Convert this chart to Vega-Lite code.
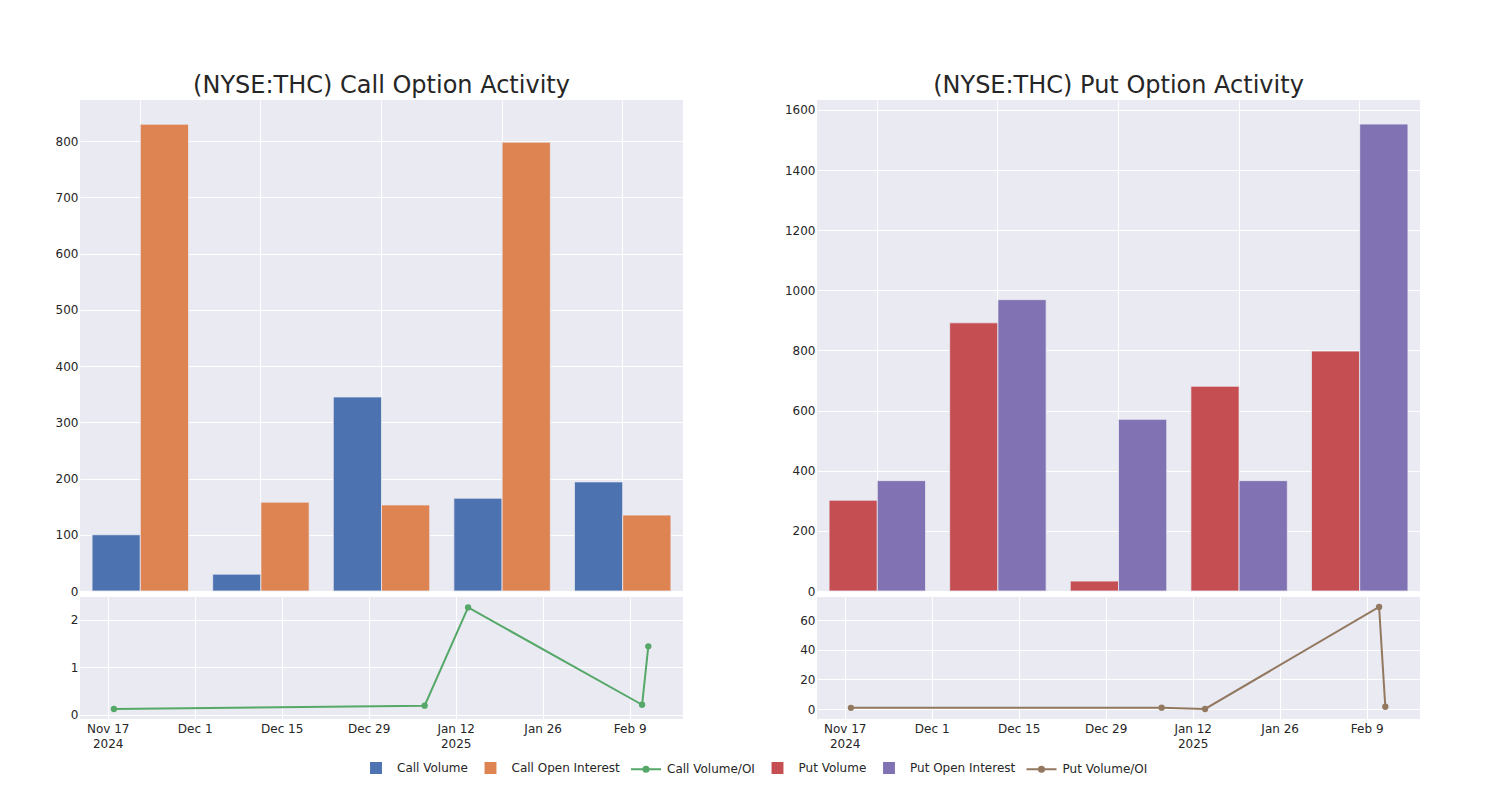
{
  "$schema": "https://vega.github.io/schema/vega-lite/v6.json",
  "background": "white",
  "padding": {"left": 55, "top": 74, "right": 10, "bottom": 10},
  "datasets": {
    "bars": [
      {"panel": "call", "date": "2024-11-18", "series": "Call Volume", "value": 100},
      {"panel": "call", "date": "2024-11-18", "series": "Call Open Interest", "value": 830},
      {"panel": "call", "date": "2025-01-07", "series": "Call Volume", "value": 30},
      {"panel": "call", "date": "2025-01-07", "series": "Call Open Interest", "value": 158},
      {"panel": "call", "date": "2025-01-14", "series": "Call Volume", "value": 345},
      {"panel": "call", "date": "2025-01-14", "series": "Call Open Interest", "value": 153},
      {"panel": "call", "date": "2025-02-11", "series": "Call Volume", "value": 165},
      {"panel": "call", "date": "2025-02-11", "series": "Call Open Interest", "value": 798},
      {"panel": "call", "date": "2025-02-12", "series": "Call Volume", "value": 194},
      {"panel": "call", "date": "2025-02-12", "series": "Call Open Interest", "value": 135},
      {"panel": "put", "date": "2024-11-18", "series": "Put Volume", "value": 302},
      {"panel": "put", "date": "2024-11-18", "series": "Put Open Interest", "value": 367},
      {"panel": "put", "date": "2025-01-07", "series": "Put Volume", "value": 892},
      {"panel": "put", "date": "2025-01-07", "series": "Put Open Interest", "value": 969},
      {"panel": "put", "date": "2025-01-14", "series": "Put Volume", "value": 33},
      {"panel": "put", "date": "2025-01-14", "series": "Put Open Interest", "value": 571},
      {"panel": "put", "date": "2025-02-11", "series": "Put Volume", "value": 681},
      {"panel": "put", "date": "2025-02-11", "series": "Put Open Interest", "value": 367},
      {"panel": "put", "date": "2025-02-12", "series": "Put Volume", "value": 798},
      {"panel": "put", "date": "2025-02-12", "series": "Put Open Interest", "value": 1553}
    ],
    "ratios": [
      {"panel": "call", "date": "2024-11-18T00:00:00", "series": "Call Volume/OI", "value": 0.12},
      {"panel": "call", "date": "2025-01-07T00:00:00", "series": "Call Volume/OI", "value": 0.19},
      {"panel": "call", "date": "2025-01-14T00:00:00", "series": "Call Volume/OI", "value": 2.26},
      {"panel": "call", "date": "2025-02-11T00:00:00", "series": "Call Volume/OI", "value": 0.21},
      {"panel": "call", "date": "2025-02-12T00:00:00", "series": "Call Volume/OI", "value": 1.44},
      {"panel": "put", "date": "2024-11-18T00:00:00", "series": "Put Volume/OI", "value": 0.82},
      {"panel": "put", "date": "2025-01-07T00:00:00", "series": "Put Volume/OI", "value": 0.92},
      {"panel": "put", "date": "2025-01-14T00:00:00", "series": "Put Volume/OI", "value": 0.06},
      {"panel": "put", "date": "2025-02-11T00:00:00", "series": "Put Volume/OI", "value": 68.9},
      {"panel": "put", "date": "2025-02-12T00:00:00", "series": "Put Volume/OI", "value": 1.55}
    ]
  },
  "hconcat": [
    {
      "spacing": 0,
      "vconcat": [
        {
          "title": {"text": "(NYSE:THC) Call Option Activity", "anchor": "middle", "frame": "group"},
          "width": 603, "height": 491,
          "data": {"name": "bars"},
          "transform": [{"filter": "datum.panel === 'call'"}],
          "mark": {"type": "bar", "stroke": "#eaeaf2", "strokeWidth": 0.8},
          "encoding": {
            "x": {"field": "date", "type": "ordinal", "scale": {"paddingInner": 0.2, "paddingOuter": 0.1},
                  "axis": {"labels": false, "grid": true, "bandPosition": 0.5, "title": null, "tickSize": 0, "labelPadding": 0, "minExtent": 0, "maxExtent": 0}},
            "xOffset": {"field": "series", "type": "nominal", "scale": {"domain": ["Call Volume", "Call Open Interest"]}},
            "y": {"field": "value", "type": "quantitative", "scale": {"domain": [0, 873], "nice": false},
                  "axis": {"values": [0, 100, 200, 300, 400, 500, 600, 700, 800], "title": null, "format": "d"}},
            "color": {"field": "series", "type": "nominal",
              "scale": {"domain": ["Call Volume", "Call Open Interest", "Call Volume/OI", "Put Volume", "Put Open Interest", "Put Volume/OI"],
                        "range": ["#4c72b0", "#dd8452", "#55a868", "#c44e52", "#8172b3", "#937860"]},
              "legend": {
                "orient": "none", "legendX": 280, "legendY": 652, "direction": "horizontal", "columns": 6,
                "title": null, "symbolSize": 900, "labelOffset": 5, "columnPadding": 6.5, "padding": 0,
                "symbolType": {"expr": "indexof(datum.value, '/OI') >= 0 ? 'M-1,0H1M0.17,0A0.17,0.17,0,1,1,-0.17,0A0.17,0.17,0,1,1,0.17,0' : 'M-0.33,-0.33H0.33V0.33H-0.33Z'"},
                "symbolStrokeWidth": 2, "symbolOpacity": 1,
                "labelFont": "DejaVu Sans", "labelFontSize": 12, "labelColor": "#262626"
              }}
          }
        },
        {
          "width": 603, "height": 122,
          "data": {"name": "ratios"},
          "transform": [{"filter": "datum.panel === 'call'"}],
          "mark": {"type": "line", "strokeWidth": 2, "point": {"filled": true, "size": 40}},
          "encoding": {
            "x": {"field": "date", "type": "temporal",
                  "scale": {"domain": [{"year": 2024, "month": 11, "date": 12, "hours": 13}, {"year": 2025, "month": 2, "date": 17, "hours": 14}]},
                  "axis": {"title": null, "grid": true, "labelPadding": 4, "labelLineHeight": 15,
                           "values": [{"year": 2024, "month": 11, "date": 17}, {"year": 2024, "month": 12, "date": 1}, {"year": 2024, "month": 12, "date": 15}, {"year": 2024, "month": 12, "date": 29}, {"year": 2025, "month": 1, "date": 12}, {"year": 2025, "month": 1, "date": 26}, {"year": 2025, "month": 2, "date": 9}],
                           "labelExpr": "(month(datum.value) == 10 && date(datum.value) == 17) || (month(datum.value) == 0 && date(datum.value) == 12) ? [timeFormat(datum.value, '%b %-d'), timeFormat(datum.value, '%Y')] : timeFormat(datum.value, '%b %-d')"}},
            "y": {"field": "value", "type": "quantitative", "scale": {"domain": [-0.09, 2.48], "nice": false},
                  "axis": {"values": [0, 1, 2], "title": null}},
            "color": {"field": "series", "type": "nominal",
              "scale": {"domain": ["Call Volume", "Call Open Interest", "Call Volume/OI", "Put Volume", "Put Open Interest", "Put Volume/OI"],
                        "range": ["#4c72b0", "#dd8452", "#55a868", "#c44e52", "#8172b3", "#937860"]}}
          }
        }
      ]
    },
    {
      "spacing": 0,
      "vconcat": [
        {
          "title": {"text": "(NYSE:THC) Put Option Activity", "anchor": "middle", "frame": "group"},
          "width": 603, "height": 491,
          "data": {"name": "bars"},
          "transform": [{"filter": "datum.panel === 'put'"}],
          "mark": {"type": "bar", "stroke": "#eaeaf2", "strokeWidth": 0.8},
          "encoding": {
            "x": {"field": "date", "type": "ordinal", "scale": {"paddingInner": 0.2, "paddingOuter": 0.1},
                  "axis": {"labels": false, "grid": true, "bandPosition": 0.5, "title": null, "tickSize": 0, "labelPadding": 0, "minExtent": 0, "maxExtent": 0}},
            "xOffset": {"field": "series", "type": "nominal", "scale": {"domain": ["Put Volume", "Put Open Interest"]}},
            "y": {"field": "value", "type": "quantitative", "scale": {"domain": [0, 1633], "nice": false},
                  "axis": {"values": [0, 200, 400, 600, 800, 1000, 1200, 1400, 1600], "title": null, "format": "d"}},
            "color": {"field": "series", "type": "nominal",
              "scale": {"domain": ["Call Volume", "Call Open Interest", "Call Volume/OI", "Put Volume", "Put Open Interest", "Put Volume/OI"],
                        "range": ["#4c72b0", "#dd8452", "#55a868", "#c44e52", "#8172b3", "#937860"]}}
          }
        },
        {
          "width": 603, "height": 122,
          "data": {"name": "ratios"},
          "transform": [{"filter": "datum.panel === 'put'"}],
          "mark": {"type": "line", "strokeWidth": 2, "point": {"filled": true, "size": 40}},
          "encoding": {
            "x": {"field": "date", "type": "temporal",
                  "scale": {"domain": [{"year": 2024, "month": 11, "date": 12, "hours": 13}, {"year": 2025, "month": 2, "date": 17, "hours": 14}]},
                  "axis": {"title": null, "grid": true, "labelPadding": 4, "labelLineHeight": 15,
                           "values": [{"year": 2024, "month": 11, "date": 17}, {"year": 2024, "month": 12, "date": 1}, {"year": 2024, "month": 12, "date": 15}, {"year": 2024, "month": 12, "date": 29}, {"year": 2025, "month": 1, "date": 12}, {"year": 2025, "month": 1, "date": 26}, {"year": 2025, "month": 2, "date": 9}],
                           "labelExpr": "(month(datum.value) == 10 && date(datum.value) == 17) || (month(datum.value) == 0 && date(datum.value) == 12) ? [timeFormat(datum.value, '%b %-d'), timeFormat(datum.value, '%Y')] : timeFormat(datum.value, '%b %-d')"}},
            "y": {"field": "value", "type": "quantitative", "scale": {"domain": [-6.7, 75.6], "nice": false},
                  "axis": {"values": [0, 20, 40, 60], "title": null}},
            "color": {"field": "series", "type": "nominal",
              "scale": {"domain": ["Call Volume", "Call Open Interest", "Call Volume/OI", "Put Volume", "Put Open Interest", "Put Volume/OI"],
                        "range": ["#4c72b0", "#dd8452", "#55a868", "#c44e52", "#8172b3", "#937860"]}}
          }
        }
      ]
    }
  ],
  "spacing": 101,
  "resolve": {"scale": {"xOffset": "independent", "x": "independent", "y": "independent"}},
  "config": {
    "font": "DejaVu Sans",
    "view": {"fill": "#eaeaf2", "stroke": null},
    "axis": {"gridColor": "#ffffff", "gridWidth": 1, "gridOpacity": 1, "domain": false, "ticks": false,
             "labelFont": "DejaVu Sans", "labelFontSize": 12, "labelColor": "#262626", "labelPadding": 2},
    "title": {"font": "DejaVu Sans", "fontSize": 24, "fontWeight": "normal", "color": "#262626", "offset": 2}
  }
}
